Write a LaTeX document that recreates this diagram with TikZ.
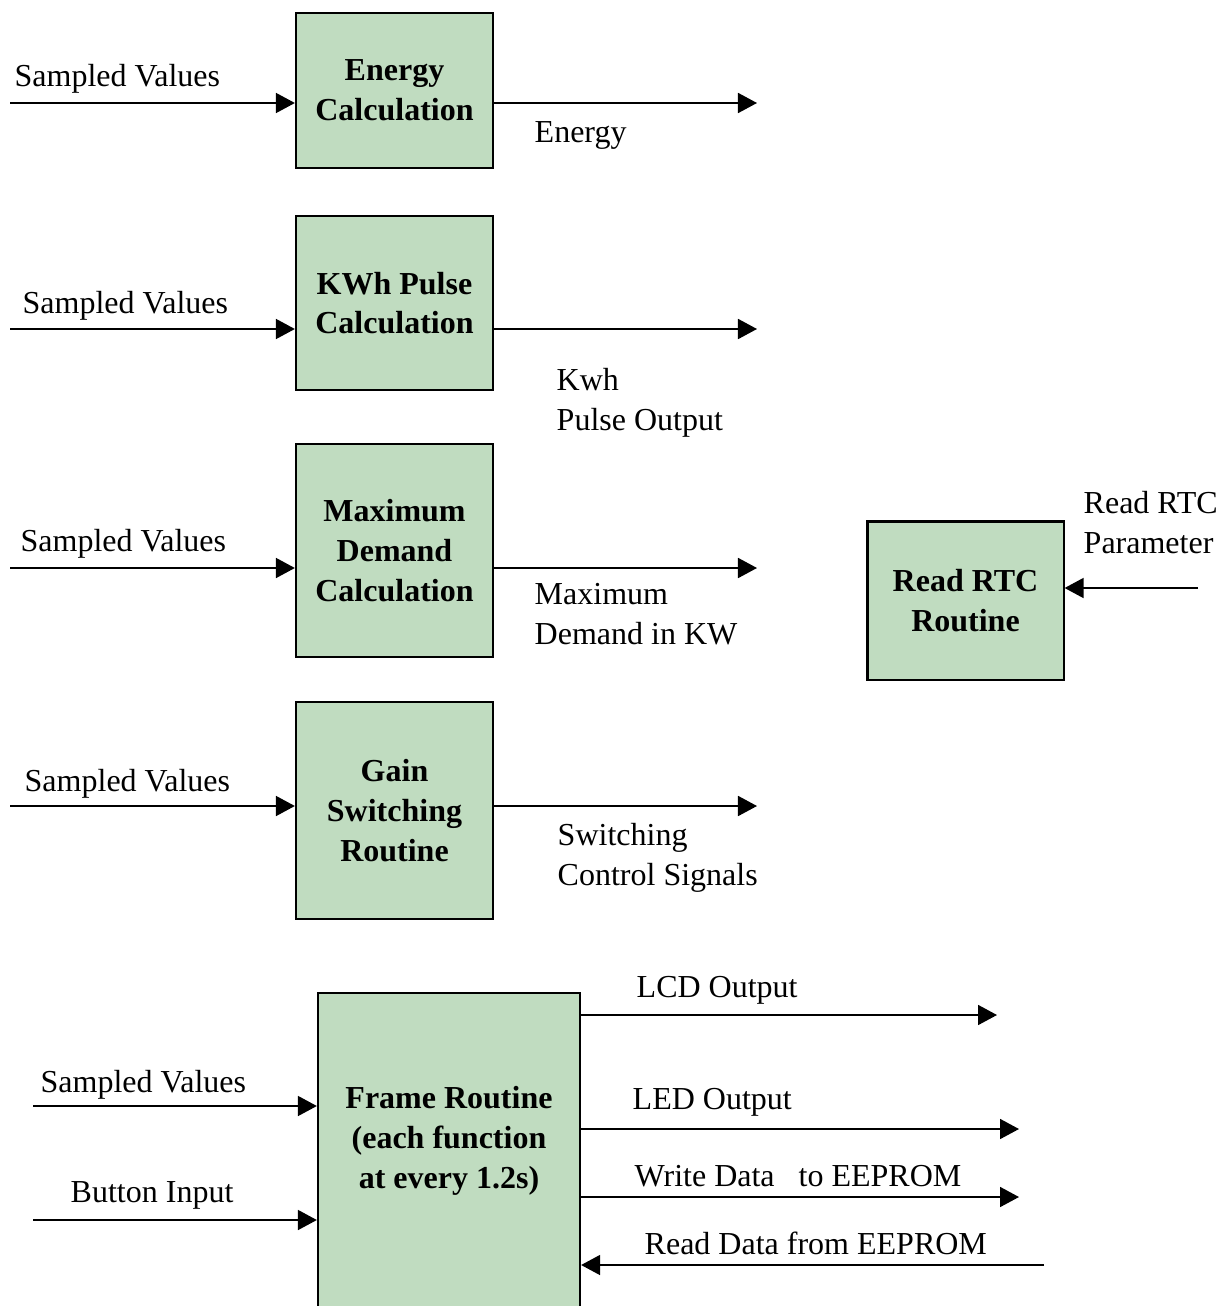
\documentclass[tikz,border=0pt]{standalone}
\usepackage{fontspec}
\setmainfont{Liberation Serif}
\usetikzlibrary{arrows.meta, positioning}
\definecolor{boxgreen}{RGB}{192,220,192}

\begin{document}
\begin{tikzpicture}[x=0.01cm, y=-0.01cm,
    font=\fontsize{9.1}{11.3}\selectfont,
    blk/.style={draw, line width=0.6pt, fill=boxgreen, minimum width=1.97cm,
      align=center, inner sep=0pt, font=\fontsize{9.1}{11.3}\selectfont\bfseries},
    lbl/.style={anchor=base west, inner sep=0pt, align=left},
    arr/.style={line width=0.5pt, -{Triangle[length=0.19cm, width=0.2cm]}}]
  \clip (0,0) rectangle (1229,1306);

  % blocks
  \node[blk, minimum height=1.55cm] (energy) at (394.5,90.5) {Energy\\Calculation};
  \node[blk, minimum height=1.74cm] (kwh) at (394.5,303) {KWh Pulse\\Calculation};
  \node[blk, minimum height=2.13cm] (maxdem) at (394.5,550.5) {Maximum\\Demand\\Calculation};
  \node[blk, minimum height=2.17cm] (gain) at (394.5,810.5) {Gain\\Switching\\Routine};
  \node[blk, minimum width=1.96cm, minimum height=1.58cm] (rtc) at (965.5,600.5) {Read RTC\\Routine};
  \node[blk, minimum width=2.62cm, minimum height=3.47cm] (frame) at (449,1166.5) {};
  \node[align=center, font=\fontsize{9.1}{11.3}\selectfont\bfseries] (frametxt) at (449,1141)
    {Frame Routine\\(each function\\at every 1.2s)};

  % loose ends
  \coordinate (sv1) at (10,103);
  \coordinate (en) at (757,103);
  \coordinate (sv2) at (10,329);
  \coordinate (kp) at (757,329);
  \coordinate (sv3) at (10,568);
  \coordinate (md) at (757,568);
  \coordinate (sv4) at (10,806);
  \coordinate (cs) at (757,806);
  \coordinate (rp) at (1198,588);
  \coordinate (sv5) at (33,1106);
  \coordinate (bi) at (33,1220);
  \coordinate (lcd) at (997,1015);
  \coordinate (led) at (1019,1129);
  \coordinate (wr) at (1019,1197);
  \coordinate (rd) at (1044,1265);

  % connectors
  \draw[arr] (sv1) -- (sv1 -| energy.west);
  \draw[arr] (en -| energy.east) -- (en);
  \draw[arr] (sv2) -- (sv2 -| kwh.west);
  \draw[arr] (kp -| kwh.east) -- (kp);
  \draw[arr] (sv3) -- (sv3 -| maxdem.west);
  \draw[arr] (md -| maxdem.east) -- (md);
  \draw[arr] (sv4) -- (sv4 -| gain.west);
  \draw[arr] (cs -| gain.east) -- (cs);
  \draw[arr] (rp) -- (rp -| rtc.east);
  \draw[arr] (sv5) -- (sv5 -| frame.west);
  \draw[arr] (bi) -- (bi -| frame.west);
  \draw[arr] (lcd -| frame.east) -- (lcd);
  \draw[arr] (led -| frame.east) -- (led);
  \draw[arr] (wr -| frame.east) -- (wr);
  \draw[arr] (rd) -- (rd -| frame.east);

  % labels (base = last line)
  \node[lbl] (sv1l) at (14,86) {Sampled Values};
  \node[lbl] (enl) at (534,142) {Energy};
  \node[lbl] (sv2l) at (22,313) {Sampled Values};
  \node[lbl] (kpl) at (556,430) {Kwh\\Pulse Output};
  \node[lbl] (sv3l) at (20,551) {Sampled Values};
  \node[lbl] (mdl) at (534,644) {Maximum\\Demand in KW};
  \node[lbl] (sv4l) at (24,791) {Sampled Values};
  \node[lbl] (csl) at (557,885) {Switching\\Control Signals};
  \node[lbl] (rpl) at (1083,553) {Read RTC\\Parameter};
  \node[lbl] (sv5l) at (40,1092) {Sampled Values};
  \node[lbl] (bil) at (70,1202) {Button Input};
  \node[lbl] (lcdl) at (636,997) {LCD Output};
  \node[lbl] (ledl) at (632,1109) {LED Output};
  \node[lbl] (wrl) at (634,1186) {Write Data~~~to EEPROM};
  \node[lbl] (rdl) at (644,1254) {Read Data from EEPROM};
\end{tikzpicture}
\end{document}
